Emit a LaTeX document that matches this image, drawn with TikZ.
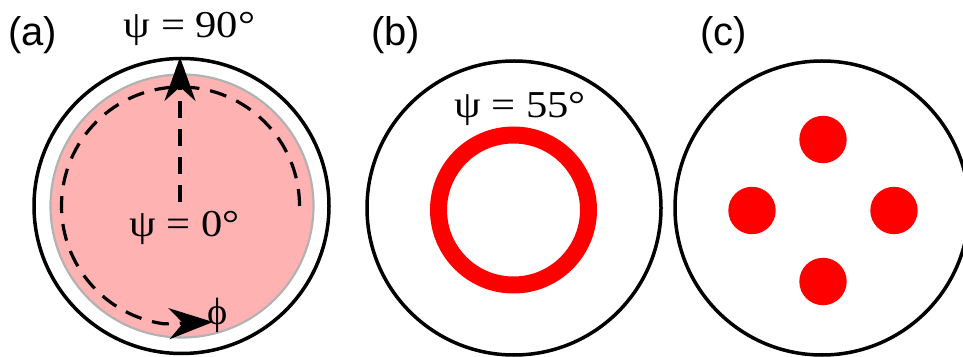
\documentclass[tikz,border=0pt]{standalone}
\usepackage{fontspec}
\setmainfont{Liberation Serif}
\newfontfamily\labelfont{Liberation Sans}
\usetikzlibrary{arrows.meta}
\definecolor{pinkfill}{RGB}{255,178,178}
\definecolor{pinkedge}{RGB}{178,178,178}
\definecolor{spotred}{RGB}{255,0,0}
\tikzset{
  outer/.style={draw=black, line width=3.5pt},
  panellabel/.style={anchor=base west, inner sep=0pt, font=\labelfont\fontsize{40}{40}\selectfont},
  anglelabel/.style={anchor=base, inner sep=0pt, xscale=1.12, font=\fontsize{38}{38}\selectfont},
  dashline/.style={line width=3.2pt, dash pattern=on 17pt off 11pt},
  tip/.style={-{Stealth[length=44pt, width=31pt, inset=14pt]}},
  spot/.style={fill=spotred, draw=none}
}
\begin{document}
\begin{tikzpicture}[x=1pt, y=1pt]
\useasboundingbox (0,0) rectangle (963,356);
\clip (0,0) rectangle (963,356);
% panel (a)
\coordinate (ca) at (181.5,150);
\fill[pinkfill, draw=pinkedge, line width=2.2pt] (182,150) circle[radius=131.5pt];
\draw[outer] (ca) circle[radius=147.5pt];
\coordinate (o) at (180,154);
\coordinate (top) at (180,299);
\coordinate (phitip) at (213,34);
\draw[dashline, tip] (o) -- (top);
\draw[dashline, tip] (180.5,150) ++(0:119pt) arc[start angle=0, end angle=262, radius=119pt] -- (phitip);
\node[anglelabel] (l90) at (189.5,318) {ψ = 90°};
\node[anglelabel] (l0) at (184.5,119) {ψ = 0°};
\node[anglelabel, xscale=0.9] (lphi) at (218,31) {ϕ};
\node[panellabel] (la) at (8,310) {(a)};
% panel (b)
\draw[outer] (514,148) circle[radius=147pt];
\draw[spotred, line width=17pt] (513.5,146) circle[radius=75pt];
\node[anglelabel] (l55) at (520,238) {ψ = 55°};
\node[panellabel] (lb) at (371,310) {(b)};
% panel (c)
\draw[outer] (822,148) circle[radius=147pt];
\fill[spot] (823,216.5) circle[radius=23.7pt];
\fill[spot] (752,145.5) circle[radius=23.7pt];
\fill[spot] (894,145.5) circle[radius=23.7pt];
\fill[spot] (823,74.5) circle[radius=23.7pt];
\node[panellabel] (lc) at (700,310) {(c)};
\end{tikzpicture}
\end{document}
